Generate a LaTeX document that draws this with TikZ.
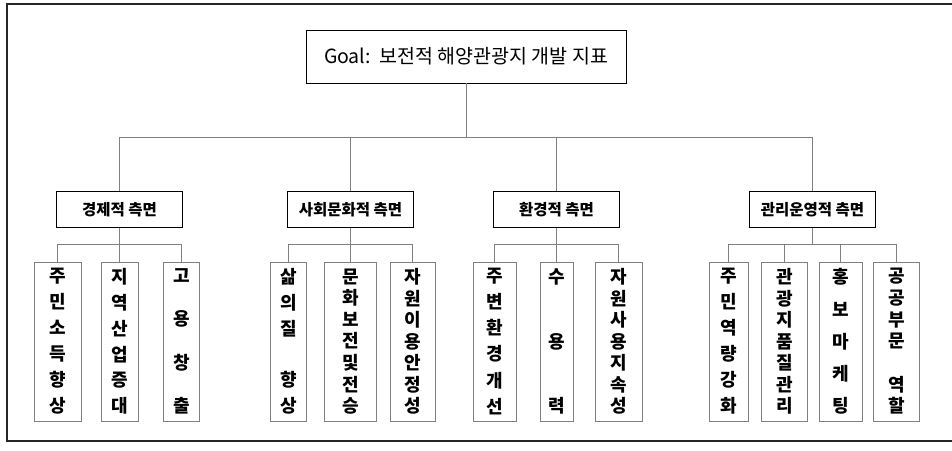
\documentclass[tikz,border=0pt]{standalone}
\usepackage{fontspec}
\setmainfont{Noto Sans CJK KR}
\usepackage{tikz}

\newcommand{\vgap}{\par\vfill}
\newcommand{\vtext}[1]{\begin{minipage}[c][146pt]{24pt}\centering #1\end{minipage}}

\tikzset{
  goalbox/.style={draw, line width=0.9pt, minimum width=320pt, minimum height=53pt, inner sep=0pt, font=\fontsize{19.5}{21}\selectfont},
  aspectbox/.style={draw, line width=0.9pt, minimum width=126pt, minimum height=36pt, inner sep=0pt, font=\bfseries\fontsize{15.5}{17}\selectfont},
  leafbox/.style={draw, line width=0.9pt, minimum height=159pt, inner sep=0pt, font=\bfseries\fontsize{18}{20}\selectfont},
  link/.style={draw=gray, line width=0.7pt},
  frame/.style={draw=black!85, line width=1.1pt}
}

\begin{document}
\begin{tikzpicture}[x=1pt, y=1pt,
    edge from parent/.style={link},
    level 1/.style={sibling distance=231pt, level distance=153pt,
      edge from parent path={(\tikzparentnode.south) -- ++(0,-54pt) -| (\tikzchildnode.north)}},
    level 2/.style={sibling distance=62pt, level distance=132pt,
      edge from parent path={(\tikzparentnode.south) -- ++(0,-16.5pt) -| (\tikzchildnode.north)}}]
    \useasboundingbox (0,0) rectangle (952,450);
    \draw[frame] (952,446) -- (7,446) -- (7,9) -- (952,9);

    \node[goalbox] (goal) at (466,393.5) {Goal:\ \ 보전적 해양관광지 개발 지표}
        child {node[aspectbox] (eco) {경제적 측면}
            child {node[leafbox, minimum width=47pt] (eco1) {\vtext{주\vgap 민\vgap 소\vgap 득\vgap 향\vgap 상}}}
            child {node[leafbox, minimum width=37pt] (eco2) {\vtext{지\vgap 역\vgap 산\vgap 업\vgap 증\vgap 대}}}
            child {node[leafbox, minimum width=36pt] (eco3) {\vtext{고\vgap 용\vgap 창\vgap 출}}}
        }
        child {node[aspectbox] (soc) {사회문화적 측면}
            child {node[leafbox, minimum width=36pt] (soc1) {\vtext{삶\vgap 의\vgap 질\vgap \mbox{}\vgap 향\vgap 상}}}
            child {node[leafbox, minimum width=52pt] (soc2) {\vtext{문\vgap 화\vgap 보\vgap 전\vgap 및\vgap 전\vgap 승}}}
            child {node[leafbox, minimum width=45pt] (soc3) {\vtext{자\vgap 원\vgap 이\vgap 용\vgap 안\vgap 정\vgap 성}}}
        }
        child[xshift=-25pt] {node[aspectbox] (env) {환경적 측면}
            child {node[leafbox, minimum width=43pt] (env1) {\vtext{주\vgap 변\vgap 환\vgap 경\vgap 개\vgap 선}}}
            child {node[leafbox, minimum width=33pt] (env2) {\vtext{수\vgap 용\vgap 력}}}
            child {node[leafbox, minimum width=47pt] (env3) {\vtext{자\vgap 원\vgap 사\vgap 용\vgap 지\vgap 속\vgap 성}}}
        }
        child {node[aspectbox] (mgt) {관리운영적 측면}
            child[sibling distance=56pt] {node[leafbox, minimum width=39pt] (mgt1) {\vtext{주\vgap 민\vgap 역\vgap 량\vgap 강\vgap 화}}}
            child[sibling distance=56pt] {node[leafbox, minimum width=46pt] (mgt2) {\vtext{관\vgap 광\vgap 지\vgap 품\vgap 질\vgap 관\vgap 리}}}
            child[sibling distance=56pt] {node[leafbox, minimum width=43pt] (mgt3) {\vtext{홍\vgap 보\vgap 마\vgap 케\vgap 팅}}}
            child[sibling distance=56pt] {node[leafbox, minimum width=46pt] (mgt4) {\vtext{공\vgap 공\vgap 부\vgap 문\vgap \mbox{}\vgap 역\vgap 할}}}
        };
\end{tikzpicture}
\end{document}
